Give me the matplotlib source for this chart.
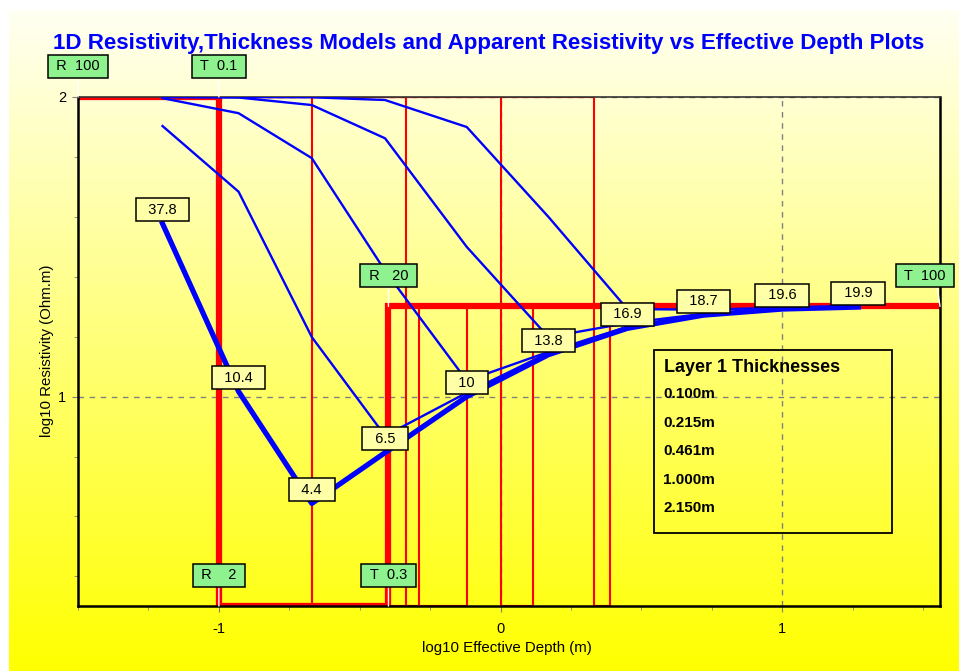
import numpy as np
import matplotlib.pyplot as plt
from matplotlib.ticker import MultipleLocator
from matplotlib.patches import Rectangle

plt.rcParams['font.family'] = ['Liberation Sans', 'DejaVu Sans']
plt.rcParams['axes.unicode_minus'] = False

TITLE = "1D Resistivity,Thickness Models and Apparent Resistivity vs Effective Depth Plots"

# three-layer earth model: resistivities (ohm.m) and thicknesses (m)
layer_rho = [100, 2, 20]
layer1_thickness = [0.100, 0.215, 0.461, 1.000, 2.150]
layer2_thickness = 0.3
layer3_thickness = 100

# log10 effective depth of the sounding points
log_depth = [-1.2, -0.93, -0.67, -0.41, -0.12, 0.17, 0.45, 0.72, 1.0, 1.27]

# apparent resistivity (ohm.m), one curve per layer 1 thickness
rho_t0100 = [37.8, 10.4, 4.4, 6.5, 10, 13.8, 16.9, 18.7, 19.6, 19.9]
rho_t0215 = [80.0, 48.3, 15.8, 7.4, 10.3, 14.0, 17.0, 18.8, 19.6, 19.9]
rho_t0461 = [99.1, 88.3, 62.5, 26.3, 11.3, 14.1, 17.1, 18.8, 19.6, 19.9]
rho_t1000 = [100.0, 99.6, 94.0, 72.8, 31.6, 15.8, 17.6, 18.9, 19.6, 19.9]
rho_t2150 = [100.0, 100.0, 99.8, 97.7, 79.4, 39.8, 19.6, 19.5, 19.8, 20.0]

X_MIN, X_MAX = -1.5, 1.56
Y_MIN, Y_MAX = np.log10(2), 2.0

GREEN = '#8ef28e'
LABEL_YELLOW = '#ffffa8'


def model_steps(t1):
    d1 = np.log10(t1)
    d2 = np.log10(t1 + layer2_thickness)
    r = np.log10(layer_rho)
    xs = [X_MIN, d1, d1, d2, d2, X_MAX]
    ys = [r[0], r[0], r[1], r[1], r[2], r[2]]
    return xs, ys


def green_tag(ax, text, x, y, dx=0, relx=0.5):
    ax.annotate(text, xy=(x, y), xytext=(dx, 22), textcoords='offset points',
                ha='center', va='center', fontsize=10.5, zorder=8,
                annotation_clip=False,
                bbox=dict(boxstyle='square,pad=0.3', fc=GREEN, ec='black', lw=1.1),
                arrowprops=dict(arrowstyle='-', color='white', lw=1,
                                shrinkA=0, shrinkB=0, relpos=(relx, 0)))


fig = plt.figure(figsize=(9.59, 6.71), dpi=100)
fig.patch.set_facecolor('white')

# pale-to-yellow backdrop
bg = fig.add_axes([9 / 959, 0, 1 - 9 / 959, 1 - 10 / 671])
grad = np.linspace(0.95, 0.0, 256)
img = np.ones((256, 1, 3))
img[:, 0, 2] = grad
bg.imshow(img, aspect='auto', extent=(0, 1, 0, 1))
bg.set_axis_off()

ax = fig.add_axes([78 / 959, 1 - 606 / 671, 862 / 959, 509 / 671])
ax.set_facecolor('none')
ax.set_xlim(X_MIN, X_MAX)
ax.set_ylim(Y_MIN, Y_MAX)

# layer models (first one drawn heavy)
for t1 in layer1_thickness[1:]:
    xs, ys = model_steps(t1)
    ax.plot(xs, ys, color='#ff0000', lw=1.5, zorder=2)
xs, ys = model_steps(layer1_thickness[0])
ax.plot(xs, ys, color='#ff0000', lw=4.5, zorder=2.5, solid_joinstyle='miter')

# apparent resistivity curves
for rho in [rho_t0215, rho_t0461, rho_t1000, rho_t2150]:
    ax.plot(log_depth, np.log10(rho), color='#0000ff', lw=1.7, zorder=3)
ax.plot(log_depth, np.log10(rho_t0100), color='#0000ff', lw=3.8, zorder=3.5)

for x, v in zip(log_depth, rho_t0100):
    ax.annotate(f"  {v:g}  ", xy=(x, np.log10(v)), xytext=(0, 10),
                textcoords='offset points', ha='center', va='center',
                fontsize=10.5, zorder=7,
                bbox=dict(boxstyle='square,pad=0.3', fc=LABEL_YELLOW,
                          ec='black', lw=1.1))

# model parameter tags
t1 = layer1_thickness[0]
d1 = np.log10(t1)
d2 = np.log10(t1 + layer2_thickness)
green_tag(ax, f" R  {layer_rho[0]:g} ", X_MIN, np.log10(layer_rho[0]))
green_tag(ax, f" T  {t1:g} ", d1, np.log10(layer_rho[0]))
green_tag(ax, f" R    {layer_rho[1]:g} ", d1, np.log10(layer_rho[1]))
green_tag(ax, f" T  {layer2_thickness:g} ", d2, np.log10(layer_rho[1]))
green_tag(ax, f" R   {layer_rho[2]:g} ", d2, np.log10(layer_rho[2]))
green_tag(ax, f" T  {layer3_thickness:g} ", X_MAX, np.log10(layer_rho[2]),
          dx=-11, relx=0.74)

# thickness legend box
ax.add_patch(Rectangle((0.668, 0.1434), 0.276, 0.3596, transform=ax.transAxes,
                       fill=False, ec='black', lw=1.3, zorder=6))
ax.text(0.680, 0.468, "Layer 1 Thicknesses", transform=ax.transAxes,
        fontsize=13, fontweight='bold', va='center', ha='left', zorder=6)
for i, t in enumerate(layer1_thickness):
    ax.text(0.679, 0.416 - i * 0.0561, f"{t:.3f}m", transform=ax.transAxes,
            fontsize=11, fontweight='bold', va='center', ha='left', zorder=6)

# title lives in the axes so the tags can sit over it
ax.text(489 / 959, 1 - 43 / 671, TITLE, transform=fig.transFigure,
        color='#0000ff', fontsize=16.1, fontweight='bold',
        ha='center', va='center', zorder=1, clip_on=False)

ax.set_xticks([-1, 0, 1])
ax.set_yticks([1, 2])
ax.set_yticklabels(['1', '2'])
ax.xaxis.set_minor_locator(MultipleLocator(0.25))
ax.yaxis.set_minor_locator(MultipleLocator(0.2))
ax.tick_params(which='major', length=4.5, color='gray', labelsize=10.5, pad=7)
ax.tick_params(axis='y', which='major', pad=4)
ax.tick_params(which='minor', length=3, color='gray')
ax.grid(True, which='major', color='gray', lw=1, ls=(0, (4, 4)), zorder=1)
ax.set_axisbelow(True)

for side in ['left', 'bottom', 'right']:
    ax.spines[side].set_linewidth(1.8)
ax.spines['top'].set_linewidth(1.2)
ax.spines['top'].set_color('#333333')

fig.text(507 / 959, 1 - 648 / 671, "log10 Effective Depth (m)",
         ha='center', va='center', fontsize=10.8)
fig.text(47 / 959, 1 - 351 / 671, "log10 Resistivity (Ohm.m)",
         ha='center', va='center', rotation=90, fontsize=10.8)

fig.savefig('out.png', dpi=100)
